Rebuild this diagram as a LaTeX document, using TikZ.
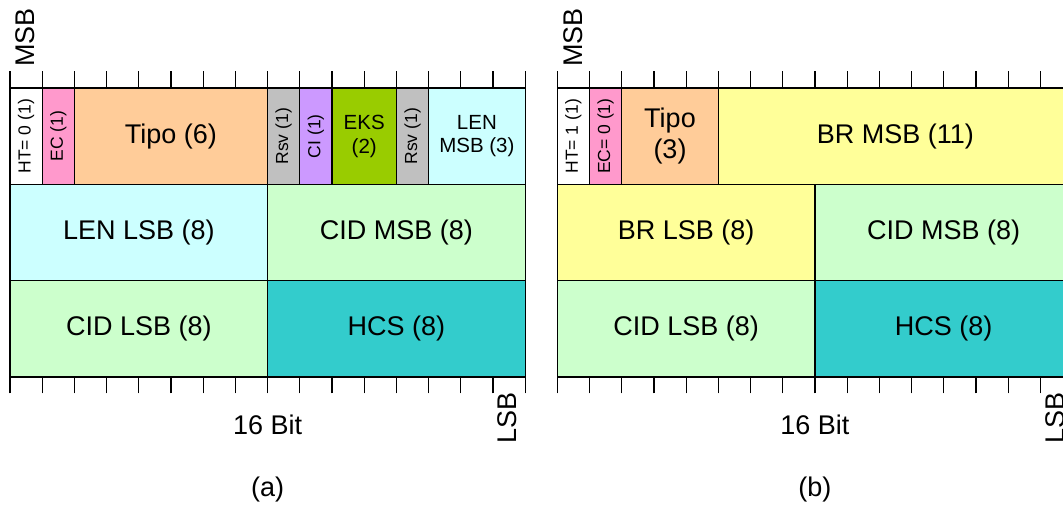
\documentclass[tikz,border=0pt]{standalone}
\usepackage{fontspec}
\setmainfont{Liberation Sans}
\definecolor{ecpink}{HTML}{FF99CC}
\definecolor{tipo}{HTML}{FFCC99}
\definecolor{rsv}{HTML}{C0C0C0}
\definecolor{ci}{HTML}{CC99FF}
\definecolor{eks}{HTML}{99CC00}
\definecolor{len}{HTML}{CCFFFF}
\definecolor{cid}{HTML}{CCFFCC}
\definecolor{hcs}{HTML}{33CCCC}
\definecolor{br}{HTML}{FFFF99}
\tikzset{
  field/.style={draw=black, line width=1.2pt},
  big/.style={font=\fontsize{27}{31}\selectfont, align=center},
  mid/.style={font=\fontsize{20.5}{23.5}\selectfont, align=center},
  small/.style={font=\fontsize{17.5}{21}\selectfont, rotate=90},
  side/.style={font=\fontsize{27}{31}\selectfont, rotate=90, anchor=base west, inner sep=0pt}
}
\begin{document}
\begin{tikzpicture}
\useasboundingbox (0,0) rectangle (1063pt,504pt);
\clip (0,0) rectangle (1063pt,504pt);

% (a)
\begin{scope}[shift={(10pt,127pt)},x=32.2pt,y=96.3pt]
\draw[field,fill=white] (0,2) rectangle (1,3);
\draw[field,fill=ecpink] (1,2) rectangle (2,3);
\draw[field,fill=tipo] (2,2) rectangle (8,3);
\draw[field,fill=rsv] (8,2) rectangle (9,3);
\draw[field,fill=ci] (9,2) rectangle (10,3);
\draw[field,fill=eks] (10,2) rectangle (12,3);
\draw[field,fill=rsv] (12,2) rectangle (13,3);
\draw[field,fill=len] (13,2) rectangle (16,3);
\draw[field,fill=len] (0,1) rectangle (8,2);
\draw[field,fill=cid] (8,1) rectangle (16,2);
\draw[field,fill=cid] (0,0) rectangle (8,1);
\draw[field,fill=hcs] (8,0) rectangle (16,1);
\draw[field] (0,3) grid[xstep=1,ystep=10] (16,3.173);
\draw[field] (0,-0.171) grid[xstep=1,ystep=10] (16,0);

\node[small] (htA) at (0.5,2.5) {HT= 0 (1)};
\node[small] (ecA) at (1.5,2.5) {EC (1)};
\node[big] (tipoA) at (5,2.5) {Tipo (6)};
\node[small] (rsvA) at (8.5,2.5) {Rsv (1)};
\node[small] (ciA) at (9.5,2.5) {CI (1)};
\node[mid] (eksA) at (11,2.5) {EKS\\(2)};
\node[small] (rsvB) at (12.5,2.5) {Rsv (1)};
\node[mid] (lenmsbA) at (14.5,2.5) {LEN\\MSB (3)};
\node[big] (lenlsbA) at (4,1.5) {LEN LSB (8)};
\node[big] (cidmsbA) at (12,1.5) {CID MSB (8)};
\node[big] (cidlsbA) at (4,0.5) {CID LSB (8)};
\node[big] (hcsA) at (12,0.5) {HCS (8)};

\node[side] (msbA) at (0.776,3.219) {MSB};
\node[side] (lsbA) at (15.736,-0.692) {LSB};
\node[big,anchor=base] (bitsA) at (8,-0.595) {16 Bit};
\node[big,anchor=base] (capA) at (8,-1.246) {(a)};
\end{scope}

% (b)
\begin{scope}[shift={(557.3pt,127pt)},x=32.2pt,y=96.3pt]
\draw[field,fill=white] (0,2) rectangle (1,3);
\draw[field,fill=ecpink] (1,2) rectangle (2,3);
\draw[field,fill=tipo] (2,2) rectangle (5,3);
\draw[field,fill=br] (5,2) rectangle (16,3);
\draw[field,fill=br] (0,1) rectangle (8,2);
\draw[field,fill=cid] (8,1) rectangle (16,2);
\draw[field,fill=cid] (0,0) rectangle (8,1);
\draw[field,fill=hcs] (8,0) rectangle (16,1);
\draw[field] (0,3) grid[xstep=1,ystep=10] (16,3.173);
\draw[field] (0,-0.171) grid[xstep=1,ystep=10] (16,0);

\node[small] (htB) at (0.5,2.5) {HT= 1 (1)};
\node[small] (ecB) at (1.5,2.5) {EC= 0 (1)};
\node[big] (tipoB) at (3.5,2.5) {Tipo\\(3)};
\node[big] (brmsbB) at (10.5,2.5) {BR MSB (11)};
\node[big] (brlsbB) at (4,1.5) {BR LSB (8)};
\node[big] (cidmsbB) at (12,1.5) {CID MSB (8)};
\node[big] (cidlsbB) at (4,0.5) {CID LSB (8)};
\node[big] (hcsB) at (12,0.5) {HCS (8)};

\node[side] (msbB) at (0.776,3.219) {MSB};
\node[side] (lsbB) at (15.736,-0.692) {LSB};
\node[big,anchor=base] (bitsB) at (8,-0.595) {16 Bit};
\node[big,anchor=base] (capB) at (8,-1.246) {(b)};
\end{scope}
\end{tikzpicture}
\end{document}
